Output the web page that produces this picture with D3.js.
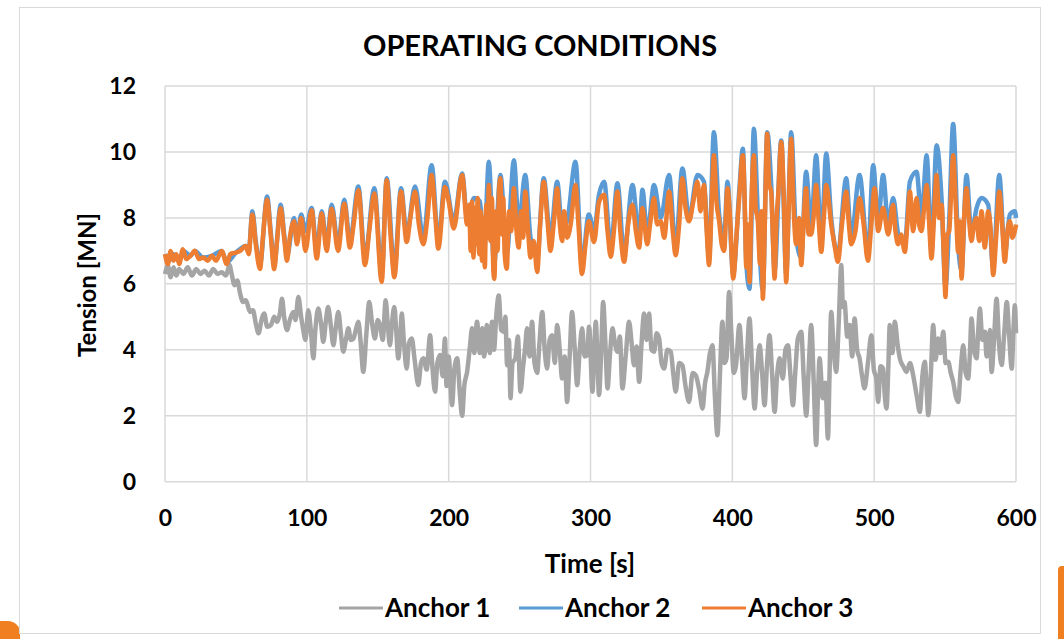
<!DOCTYPE html>
<html>
<head>
<meta charset="utf-8">
<script src="https://cdn.jsdelivr.net/npm/d3@7"></script>
<style>
  html, body { margin: 0; padding: 0; background: #fff; }
  svg { display: block; font-family: Lato, "Open Sans", sans-serif; font-weight: 700; }
</style>
</head>
<body>
<svg id="chart" width="1064" height="639"></svg>
<script>
// tick values
const xTicks = [0, 100, 200, 300, 400, 500, 600];
const yTicks = [0, 2, 4, 6, 8, 10, 12];
const seriesNames = ['Anchor 1', 'Anchor 2', 'Anchor 3'];
const seriesColors = ['#a5a5a5', '#5b9bd5', '#ed7d31'];

// Anchor 1 tension [MN] as [time s, value]
const anchor1 = [
  [0,6.3],[2,6.55],[4,6.2],[6,6.5],[8,6.25],[10,6.45],[13,6.3],[16,6.5],[19,6.25],[22,6.45],[25,6.3],[28,6.4],
  [31,6.25],[34,6.45],[37,6.3],[40,6.35],[43,6.25],[45.5,6.57],[47,6.3],[49,5.96],[51,6.1],[53,5.7],[55,5.45],
  [57,5.5],[60,5.15],[62,5.2],[64,4.8],[66,4.5],[68,4.9],[70,5.1],[72,4.7],[74.7,4.75],[77,5.0],[79,4.85],[81,5.1],
  [82.5,5.55],[84,5.0],[86,4.6],[88,4.9],[90.5,5.15],[92,4.9],[94,5.6],[96,5.0],[97.5,4.6],[99,4.3],[101,5.2],
  [103,4.5],[104.6,3.74],[106,4.6],[108,5.25],[110,4.8],[111.6,4.24],[113.5,4.9],[115,5.3],[117,4.7],[118.7,4.14],
  [120.5,4.7],[122.2,5.15],[124,4.5],[125.7,3.94],[127.5,4.3],[129.3,4.65],[131,4.3],[132.8,4.34],[134.5,4.6],
  [136.3,4.85],[138,4.2],[139.8,3.33],[142,4.5],[144,5.45],[146,4.8],[148,4.34],[150,4.9],[151.6,4.75],[153.5,4.3],
  [155.6,5.5],[157,4.8],[158.6,4.14],[160,4.8],[161.7,5.3],[163,4.6],[164.5,3.74],[166,4.5],[166.9,5.1],[168.5,4.2],
  [170.4,3.43],[172,4.2],[174,4.34],[176,3.7],[178.6,2.93],[180.5,3.6],[182.2,3.74],[184.5,3.4],[186.9,4.44],
  [188.5,3.5],[190.4,2.73],[192,3.6],[194,3.84],[195.7,3.2],[197.4,4.34],[198.5,2.9],[200,3.8],[202.4,2.32],
  [204,3.4],[206,3.74],[208,2.6],[209.5,2.0],[211,2.9],[213,3.33],[215,4.1],[216.5,4.65],[218,3.9],[220,4.85],
  [222,3.9],[223.6,4.65],[225,3.8],[227,4.75],[229,3.9],[230.6,4.85],[232,4.0],[233.5,5.0],[235.3,5.65],[237,4.6],
  [238.9,4.54],[240,5.0],[241.2,3.53],[242.5,4.3],[243.6,2.53],[245,3.6],[247,3.74],[248.8,4.4],[250.6,2.73],
  [252.5,3.5],[253.8,4.0],[255.3,4.65],[257,3.8],[258.8,4.85],[260.5,3.6],[262.4,3.3],[264,4.2],[266,5.15],
  [267.7,4.0],[269.4,3.43],[271.2,4.3],[273,4.44],[274.8,3.6],[276.5,4.75],[278.3,4.0],[280,3.13],[281.8,3.8],
  [283.5,2.42],[285.2,3.7],[287,5.15],[288.8,4.1],[290.6,2.93],[292.4,4.0],[294.1,4.65],[295.8,3.8],[297.6,3.84],
  [299,4.7],[301.4,2.73],[302.5,3.8],[303.7,4.85],[305,3.6],[306,2.63],[307.5,3.9],[308.9,5.45],[310.5,4.2],
  [312,2.83],[313.8,3.9],[315.5,4.65],[317.2,4.2],[319,3.94],[320.7,4.4],[322.5,2.83],[324.8,3.8],[327.2,4.85],
  [329,4.2],[330.7,3.53],[332.5,4.1],[334.3,3.03],[336,4.2],[337.8,5.1],[339.5,4.3],[341.3,5.1],[343,4.0],
  [344.8,3.94],[346.6,4.5],[348.4,4.34],[350.1,3.6],[351.9,3.43],[354.2,4.0],[356.6,3.94],[358.3,3.3],[360.1,2.73],
  [362.5,3.6],[364.8,3.53],[367,2.9],[369.5,2.42],[372,3.3],[374.2,3.23],[376.6,2.8],[379,2.22],[380.8,3.0],
  [382.4,3.33],[384.2,3.9],[386,4.14],[387.7,2.6],[389.5,1.41],[391.3,3.3],[393,4.85],[394.5,3.6],[395.9,3.74],
  [397.7,5.75],[399.3,4.5],[401,3.3],[402.5,3.5],[405,4.75],[406.8,3.7],[408.6,2.53],[410.3,3.8],[412.1,4.95],
  [413.9,3.5],[415.7,2.22],[417.5,3.4],[419.2,4.14],[421,3.3],[422.7,2.32],[424.5,3.6],[426.2,4.44],[428,3.3],
  [429.8,2.12],[431.5,3.2],[433.3,3.74],[435.6,3.13],[437.4,4.0],[439.2,4.14],[441,3.2],[442.7,2.32],[444.5,3.4],
  [446.2,4.34],[448.6,4.55],[450.3,3.2],[452.1,2.0],[453.8,3.4],[455.6,4.75],[457.4,3.0],[459.1,1.11],[460.3,2.5],
  [461.5,3.74],[463.8,2.53],[465.6,3.0],[467.4,1.31],[468.5,3.2],[469.7,5.15],[471.5,4.0],[473.2,3.33],[475,4.8],
  [476.8,6.57],[478,5.3],[479.1,5.45],[481,4.4],[482.7,4.75],[484.5,3.8],[486.2,4.95],[488,4.0],[489.7,3.74],
  [491.5,3.2],[493.2,2.83],[495.6,3.6],[498,4.44],[499.8,3.4],[501.5,3.13],[502.8,2.42],[504.5,3.5],[506.3,3.43],
  [507.5,2.6],[508.7,2.22],[510,3.5],[511,4.75],[512.8,3.9],[514.6,4.85],[516.4,4.2],[518.1,3.74],[520.5,3.5],
  [522.8,3.33],[525.2,3.6],[527.5,3.23],[530,2.6],[532.2,2.12],[534,3.2],[535.7,3.64],[537,2.8],[538.1,2.02],
  [540,3.3],[541.6,4.75],[543.3,3.7],[545.1,4.34],[546.9,3.9],[548.7,4.55],[550.4,3.6],[552.2,3.64],[554,3.3],
  [555.7,3.03],[557.5,2.6],[559.2,2.42],[561,3.4],[562.8,4.14],[564.5,3.3],[566.3,3.13],[567.5,3.9],[568.6,4.95],
  [570.4,4.0],[572.2,3.74],[573.4,4.6],[574.5,5.25],[576.3,4.3],[578.1,4.55],[579.2,3.8],[580.4,3.84],[581.6,4.6],
  [582.8,3.33],[584.5,4.3],[586.3,5.55],[588,4.2],[589.9,3.54],[591.7,4.5],[593.5,5.45],[595.2,4.4],[597,3.43],
  [598.2,4.6],[599.2,5.35],[600,4.5]
];

// Anchor 2 tension [MN]
const anchor2 = [
  [0,6.9],[3,6.7],[6,6.9],[10,6.7],[13,7.0],[18,6.85],[21,7.0],[27,6.8],[33,6.85],[40,7.0],[43.5,6.65],[50,6.95],
  [57,7.15],[59,6.95],[61.6,8.2],[64,7.3],[67,6.6],[72,8.65],[74.5,7.6],[77,6.6],[81.6,8.4],[84,7.5],[86,6.85],
  [91,8.0],[93,7.3],[96,8.1],[99,7.6],[103.4,8.3],[107,7.0],[110.5,8.2],[114,7.2],[117.5,8.4],[122,7.2],[126.4,8.55],
  [130.4,7.3],[136.3,8.95],[141,6.8],[147.6,8.9],[152.8,6.3],[156.3,9.2],[161.7,6.4],[166.4,8.9],[170.4,7.5],
  [176.3,8.95],[182.2,7.4],[188,9.6],[192.7,7.3],[197.4,9.1],[203.6,7.9],[209.5,9.35],[213,8.0],[218,8.6],
  [222,8.5],[225,7.0],[228.3,9.7],[232,6.6],[236.5,9.3],[241,6.9],[246,9.75],[249.4,7.8],[254,9.3],[257.7,7.4],
  [262.4,6.8],[267,9.2],[271.8,7.4],[276.5,9.1],[280,7.7],[283.5,7.9],[289.4,9.7],[294,6.6],[298.8,8.1],
  [302.5,7.6],[306,8.7],[309.6,9.1],[314.3,7.1],[319,9.05],[323.7,6.9],[329.6,9.0],[334.3,7.4],[336.6,8.85],
  [340,7.5],[344.8,9.0],[349.5,8.0],[355.4,9.3],[360,7.1],[364.8,9.5],[369.5,8.0],[375.4,9.3],[380,9.1],
  [383.6,6.8],[387,10.6],[390.7,8.1],[394.2,7.4],[396.6,9.1],[400.6,6.3],[405,8.9],[407.4,10.1],[409.8,6.7],
  [412.1,5.85],[415.2,10.7],[418,8.1],[421.5,5.8],[424.6,10.6],[427.4,9.0],[429.8,6.4],[434.5,10.35],[438,6.3],
  [441.5,10.6],[445,7.4],[448.6,6.8],[452,9.4],[455.6,7.7],[459.1,9.9],[462.7,7.2],[466.2,9.95],[469.7,8.0],
  [474.4,6.9],[480.3,9.2],[483.8,7.4],[489.7,9.3],[495.6,6.9],[499.3,9.6],[502.8,7.9],[506.3,9.3],[509.9,7.8],
  [513.4,8.6],[517,7.5],[521.6,7.2],[525.2,9.1],[529.9,9.4],[533.4,8.0],[537,9.9],[540.4,7.0],[544,10.2],
  [547.5,8.6],[550.3,5.9],[552.9,7.9],[555.7,10.85],[559.2,7.2],[561.6,6.4],[565.1,9.3],[568.6,7.5],[572.2,8.3],
  [575.7,8.6],[580.4,8.4],[583.9,6.5],[588.2,9.3],[592.1,6.9],[595.7,8.1],[599.2,8.2],[600,8.0]
];

// Anchor 3 tension [MN]
const anchor3 = [
  [0,6.9],[2,6.6],[4,7.0],[6,6.7],[8,6.9],[10,6.6],[12.6,7.05],[15,6.75],[18,6.85],[21,7.0],[24,6.75],[27,6.8],
  [30,6.7],[33,6.85],[36,6.7],[40,7.0],[43.5,6.6],[46,6.9],[50,6.95],[53,7.0],[57,7.15],[59,6.9],[61.6,8.1],
  [64,7.2],[67,6.45],[69,7.4],[72,8.55],[74.5,7.5],[77,6.45],[79,7.3],[81.6,8.3],[84,7.4],[86,6.7],[88,7.4],
  [91,7.9],[93,7.2],[96,8.0],[99,7.0],[103.4,8.23],[107,6.77],[110.5,8.13],[114,7.0],[117.5,8.28],[122,7.0],
  [126.4,8.43],[130.4,7.1],[133,7.8],[136.3,8.84],[141,6.57],[144,7.6],[147.6,8.74],[152.8,6.06],[156.3,9.14],
  [159,7.5],[161.7,6.2],[166.4,8.8],[170.4,7.27],[173,8.0],[176.3,8.8],[179,7.8],[182.2,7.2],[185,8.0],[188,9.3],
  [190.5,8.1],[192.7,7.07],[197.4,8.94],[200,8.5],[203.6,7.68],[209.5,9.3],[213,7.8],[214.5,8.4],[215.5,7.0],
  [216.5,8.5],[217.5,6.8],[218.5,8.3],[219.5,7.2],[220.5,8.6],[221.5,6.9],[222.5,8.2],[223.5,6.7],[224.5,8.0],
  [225.5,6.5],[226.5,8.4],[227.5,7.4],[228.3,9.0],[229.5,7.3],[230.5,8.6],[231.5,6.4],[232.2,6.15],[233.5,8.2],
  [234.5,7.0],[235.5,8.8],[236.5,9.2],[237.5,7.5],[238.5,8.6],[239.5,6.9],[241,6.46],[242.5,8.2],[244,7.6],
  [246,8.9],[247.5,7.8],[249.4,7.1],[251,8.2],[252.5,7.4],[254,8.8],[256,7.6],[257.7,6.8],[260,7.3],[262.4,6.36],
  [264.5,7.8],[267,9.1],[269.5,8.0],[271.8,7.0],[274,7.8],[276.5,8.9],[278,8.0],[280,7.3],[281.5,8.2],[283.5,7.4],
  [286,7.8],[289.4,9.0],[291.5,7.8],[294,6.3],[296.5,7.2],[298.8,7.9],[302.5,7.27],[306,8.48],[309.6,8.7],
  [312,7.6],[314.3,6.82],[316.5,7.6],[319,8.8],[321,7.6],[323.7,6.67],[326.5,7.8],[329.6,8.4],[332,7.6],
  [334.3,7.1],[336.6,8.3],[340,7.2],[342,7.8],[344.8,8.6],[347,7.8],[349.5,7.9],[352,7.4],[355.4,8.8],[358,7.6],
  [360,6.87],[362.5,7.8],[364.8,9.2],[367,8.3],[369.5,7.9],[372.5,8.5],[375.4,9.1],[377.5,8.2],[380,9.0],
  [381.8,7.7],[383.6,6.57],[385.5,8.5],[387,9.9],[388.8,8.5],[390.7,7.9],[392.5,7.2],[394.2,7.0],[396.6,8.9],
  [398.5,7.9],[400.6,6.16],[403,7.5],[405,8.7],[407.4,9.9],[409,8.0],[409.8,6.5],[411,7.8],[412.1,6.05],
  [413.5,8.5],[415.2,9.9],[416.5,8.3],[418,7.9],[419.5,6.6],[420.5,8.2],[421.5,5.55],[423,8.0],[424.6,10.55],
  [426,9.0],[427.4,8.8],[428.5,7.5],[429.8,6.16],[431,7.8],[432.5,8.8],[434.5,10.3],[436.3,8.6],[438,6.05],
  [439.5,8.0],[441.5,10.4],[443,8.5],[445,7.2],[447,8.0],[448.6,6.57],[450.3,7.9],[452,8.9],[453.8,7.5],
  [455.6,7.5],[457.2,8.0],[459.1,9.0],[460.9,7.9],[462.7,6.97],[464.5,8.0],[466.2,9.0],[468,8.5],[469.7,7.8],
  [472,7.2],[474.4,6.67],[477.3,7.8],[480.3,8.8],[482,7.9],[483.8,7.2],[486.8,7.6],[489.7,8.6],[492.6,7.8],
  [495.6,6.7],[498,7.8],[500.3,8.9],[502.8,7.6],[506.3,8.3],[509.9,7.5],[513.4,8.4],[515,7.6],[517,7.2],[519,7.5],
  [521.6,6.97],[523.4,7.8],[525.2,8.8],[527.5,7.6],[529.9,8.6],[531.7,7.8],[533.4,7.6],[535.2,8.3],[537,9.0],
  [538.7,7.9],[540.4,6.77],[542.2,8.0],[544,9.3],[545.8,8.0],[547.5,8.4],[549,7.0],[550.3,5.6],[551.6,7.5],
  [552.9,7.6],[554.3,8.8],[555.7,9.9],[557.5,8.4],[559.2,6.97],[560.4,7.9],[561.6,6.16],[563.4,8.0],[565.1,8.9],
  [566.8,8.0],[568.6,7.3],[570.4,7.8],[572.2,8.0],[574,7.3],[575.7,8.2],[578,7.1],[580.4,8.2],[582.2,7.6],
  [583.9,6.27],[586,7.4],[588.2,8.8],[590.2,7.8],[592.1,6.67],[594,7.6],[595.7,7.9],[597.5,7.4],[599.2,7.6],[600,7.8]
];

const series = [anchor1, anchor2, anchor3];

const svg = d3.select('#chart');

// slide decorations around the chart
svg.append('rect').attr('x', -20).attr('y', 621).attr('width', 40).attr('height', 40)
  .attr('rx', 12).attr('fill', '#f07f22');
svg.append('rect').attr('x', 1058).attr('y', 566).attr('width', 20).attr('height', 80)
  .attr('rx', 4).attr('fill', '#f07f22');

// chart frame
svg.append('rect')
  .attr('x', 19.5).attr('y', 7.5).attr('width', 1021).attr('height', 626)
  .attr('fill', '#fff').attr('stroke', '#d9d9d9').attr('stroke-width', 1);

const x = d3.scaleLinear().domain([0, 600]).range([165, 1016]);
const y = d3.scaleLinear().domain([0, 12]).range([481.7, 86]);

// gridlines
svg.append('g').selectAll('line').data(yTicks).enter().append('line')
  .attr('x1', x(0)).attr('x2', x(600))
  .attr('y1', d => y(d)).attr('y2', d => y(d))
  .attr('stroke', '#d9d9d9').attr('stroke-width', 1.5);

svg.append('g').selectAll('line').data(xTicks).enter().append('line')
  .attr('y1', y(0)).attr('y2', y(12))
  .attr('x1', d => x(d)).attr('x2', d => x(d))
  .attr('stroke', '#d9d9d9').attr('stroke-width', 1.5);

// axes: labels only, lines come from the grid
const xAxis = svg.append('g')
  .attr('transform', `translate(0,${y(0)})`)
  .call(d3.axisBottom(x).tickValues(xTicks).tickSize(0).tickPadding(28));
const yAxis = svg.append('g')
  .attr('transform', `translate(${x(0)},0)`)
  .call(d3.axisLeft(y).tickValues(yTicks).tickSize(0).tickPadding(29));
[xAxis, yAxis].forEach(a => {
  a.select('.domain').remove();
  a.selectAll('text').attr('font-family', 'Lato, sans-serif').attr('font-weight', 700)
    .attr('font-size', 23).attr('fill', '#000');
});

// series
const line = d3.line().curve(d3.curveMonotoneX).x(d => x(d[0])).y(d => y(d[1]));
svg.append('g').selectAll('path').data(series).enter().append('path')
  .attr('d', line)
  .attr('fill', 'none')
  .attr('stroke', (d, i) => seriesColors[i])
  .attr('stroke-width', 4.5)
  .attr('stroke-linejoin', 'round');

// titles
svg.append('text').attr('x', 540).attr('y', 56).attr('text-anchor', 'middle')
  .attr('font-size', 29).text('OPERATING CONDITIONS');
svg.append('text').attr('x', 590).attr('y', 573).attr('text-anchor', 'middle')
  .attr('font-size', 26).text('Time [s]');
svg.append('text').attr('transform', 'translate(96,285) rotate(-90)').attr('text-anchor', 'middle')
  .attr('font-size', 24).text('Tension [MN]');

// legend
const legendX = [339, 519, 702];
const legend = svg.append('g').selectAll('g').data(seriesNames).enter().append('g')
  .attr('transform', (d, i) => `translate(${legendX[i]},608)`);
legend.append('line').attr('x1', 0).attr('x2', 44).attr('y1', 0).attr('y2', 0)
  .attr('stroke', (d, i) => seriesColors[i]).attr('stroke-width', 3);
legend.append('text').attr('x', 46).attr('y', 9).attr('font-size', 26).text(d => d);
</script>
</body>
</html>
